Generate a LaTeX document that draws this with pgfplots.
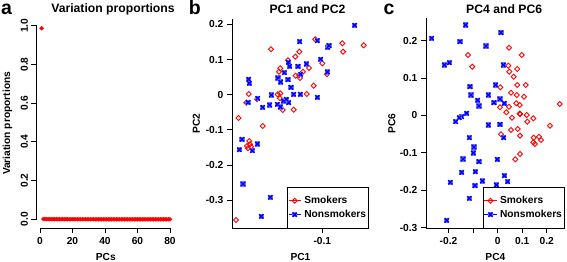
\documentclass[border=0pt]{standalone}
\usepackage{fontspec}
\setmainfont{Liberation Sans}
\usepackage{pgfplots}
\pgfplotsset{compat=1.18}
\definecolor{nsfill}{RGB}{120,120,255}
\pgfdeclareplotmark{nsq}{%
  \pgfpathrectangle{\pgfpoint{-\pgfplotmarksize}{-\pgfplotmarksize}}{\pgfpoint{2\pgfplotmarksize}{2\pgfplotmarksize}}%
  \pgfsetfillcolor{nsfill}%
  \pgfusepathqfill
  \pgfpathmoveto{\pgfpoint{-.8\pgfplotmarksize}{-.8\pgfplotmarksize}}%
  \pgfpathlineto{\pgfpoint{.8\pgfplotmarksize}{.8\pgfplotmarksize}}%
  \pgfpathmoveto{\pgfpoint{-.8\pgfplotmarksize}{.8\pgfplotmarksize}}%
  \pgfpathlineto{\pgfpoint{.8\pgfplotmarksize}{-.8\pgfplotmarksize}}%
  \pgfusepathqstroke}
\pgfplotsset{
  rstyle/.style={
    scale only axis, anchor=south west, clip=false,
    axis lines=left,
    x axis line style={-}, y axis line style={-},
    axis line style={line width=0.8bp, black},
    tick align=outside, major tick length=5bp,
    tick style={line width=0.8bp, black},
    title style={font=\fontsize{12.2bp}{14bp}\selectfont\bfseries, anchor=base, yshift=-6pt},
    xlabel style={at={(axis description cs:0.5,0)}, anchor=base, yshift=-31.7bp},
  },
  smk/.style={only marks, red, mark=square, mark size=1.8bp, mark options={rotate=45, line width=0.9bp}},
  nsm/.style={only marks, blue, mark=nsq, mark size=2.6bp, mark options={line width=1.4bp}},
  rlegend/.style={
    legend style={at={(axis description cs:1,0)}, anchor=south east, draw=black, line width=0.8bp, fill=white,
      inner xsep=1bp, inner ysep=6.25bp, column sep=1.5bp, row sep=0bp,
      nodes={inner xsep=1.5bp, inner ysep=2.5bp}},
    legend cell align=left,
    legend image code/.code={\path (-6.2bp,0bp) -- (6.2bp,0bp); \draw[##1] plot coordinates {(0bp,0bp)};},
  },
}
\begin{document}
\fontsize{10.2bp}{12bp}\selectfont\bfseries
\begin{tikzpicture}
\useasboundingbox (0,0) rectangle (567bp,262bp);

% ---------------- panel a ----------------
\begin{axis}[rstyle,
  at={(36.5bp,33.7bp)}, width=138.6bp, height=209.8bp,
  xmin=-2.154, xmax=83.14, ymin=-0.0465, ymax=1.0372,
  x axis line style={draw=none}, y axis line style={draw=none},
  xtick={0,20,40,60,80}, xticklabels={0,20,40,60,80},
  ytick={0,0.2,0.4,0.6,0.8,1.0}, yticklabels={0.0,0.2,0.4,0.6,0.8,1.0},
  yticklabel style={rotate=90, anchor=south},
  title={Variation proportions}, title style={at={(axis description cs:0.552,1)}, yshift=5.6bp},
  xlabel={PCs}, ylabel={Variation proportions},
  ylabel style={at={(axis description cs:-0.1912,0.5)}, anchor=base},
]
\draw[line width=0.8bp] (axis cs:0,-0.0465) -- (axis cs:80,-0.0465);
\draw[line width=0.8bp] (axis cs:-2.154,0) -- (axis cs:-2.154,1);
\addplot[only marks, red, mark=*, mark size=1.95bp] coordinates {
(1,0.987) (2,0.0016) (3,0.0012) (4,0.0010) (5,0.0009) (6,0.0008) (7,0.0007) (8,0.0007)
(9,0.0006) (10,0.0006) (11,0.0005) (12,0.0005) (13,0.0005) (14,0.0004) (15,0.0004) (16,0.0004)
(17,0.0004) (18,0.0003) (19,0.0003) (20,0.0003) (21,0.0003) (22,0.0003) (23,0.0003) (24,0.0002)
(25,0.0002) (26,0.0002) (27,0.0002) (28,0.0002) (29,0.0002) (30,0.0002) (31,0.0002) (32,0.0002)
(33,0.0002) (34,0.0001) (35,0.0001) (36,0.0001) (37,0.0001) (38,0.0001) (39,0.0001) (40,0.0001)
(41,0.0001) (42,0.0001) (43,0.0001) (44,0.0001) (45,0.0001) (46,0.0001) (47,0.0001) (48,0.0001)
(49,0.0001) (50,0.0001) (51,0.0001) (52,0.0001) (53,0.0001) (54,0.0001) (55,0.0001) (56,0.0001)
(57,0.0000) (58,0.0000) (59,0.0000) (60,0.0000) (61,0.0000) (62,0.0000) (63,0.0000) (64,0.0000)
(65,0.0000) (66,0.0000) (67,0.0000) (68,0.0000) (69,0.0000) (70,0.0000) (71,0.0000) (72,0.0000)
(73,0.0000) (74,0.0000) (75,0.0000) (76,0.0000) (77,0.0000) (78,0.0000) (79,0.0000) (80,0.0000)
};
\end{axis}

% ---------------- panel b ----------------
\begin{axis}[rstyle, rlegend,
  at={(232bp,33.7bp)}, width=137bp, height=209.5bp,
  xmin=-0.10903, xmax=-0.09533, ymin=-0.37955, ymax=0.21563,
  xtick={-0.1}, xticklabels={-0.1},
  ytick={-0.3,-0.2,-0.1,0,0.1,0.2}, yticklabels={-0.3,-0.2,-0.1,0,0.1,0.2},
  title={PC1 and PC2}, title style={at={(axis description cs:0.551,1)}, yshift=5.3bp},
  xlabel={PC1}, ylabel={PC2},
  ylabel style={at={(axis description cs:-0.2336,0.5)}, anchor=base},
]
\addplot[smk] coordinates {
(-0.10070,0.1574) (-0.09800,0.1460) (-0.09586,0.1403) (-0.09793,0.1222) (-0.10513,0.1290)
(-0.10230,0.1222) (-0.10270,0.1080) (-0.10343,0.0977) (-0.10000,0.0892) (-0.10133,0.0759)
(-0.10420,0.0750) (-0.10433,0.0653) (-0.10193,0.0653) (-0.10230,0.0560) (-0.10266,0.0540)
(-0.09953,0.0580) (-0.10223,0.0474) (-0.10086,0.0256) (-0.10736,0.0020) (-0.10446,0.0011)
(-0.10420,0.0040) (-0.10156,0.0020) (-0.10423,-0.0102) (-0.10653,-0.0131) (-0.10760,-0.0227)
(-0.10396,-0.0435) (-0.10286,-0.0426) (-0.10838,-0.0662) (-0.10596,-0.0889) (-0.10730,-0.1315)
(-0.10753,-0.1457) (-0.10713,-0.1477) (-0.10743,-0.1523) (-0.10723,-0.1409) (-0.10863,-0.3560)
};
\addplot[nsm] coordinates {
(-0.09676,0.1972) (-0.10226,0.1506) (-0.10050,0.1534) (-0.09946,0.1347) (-0.09933,0.1392)
(-0.10016,0.1006) (-0.10340,0.0920) (-0.10326,0.0807) (-0.10160,0.0872) (-0.10243,0.0807)
(-0.10380,0.0625) (-0.09950,0.0645) (-0.10216,0.0580) (-0.10736,0.0438) (-0.10730,0.0324)
(-0.10443,0.0474) (-0.10343,0.0426) (-0.10416,0.0361) (-0.10313,0.0210) (-0.10510,-0.0009)
(-0.10286,0.0011) (-0.10220,0.0011) (-0.10050,-0.0074) (-0.10646,-0.0102) (-0.10743,-0.0216)
(-0.10596,-0.0358) (-0.10526,-0.0293) (-0.10450,-0.0273) (-0.10420,-0.0349) (-0.10390,-0.0179)
(-0.10336,-0.0227) (-0.10360,-0.0131) (-0.10803,-0.1267) (-0.10830,-0.1563) (-0.10650,-0.1401)
(-0.10700,-0.1591) (-0.10793,-0.2537) (-0.10520,-0.2915) (-0.10610,-0.3455)
};
\legend{Smokers,Nonsmokers}
\end{axis}

% ---------------- panel c ----------------
\begin{axis}[rstyle, rlegend,
  at={(426bp,33.7bp)}, width=138.8bp, height=210bp,
  xmin=-0.29154, xmax=0.2732, ymin=-0.30187, ymax=0.25993,
  xtick={-0.2,-0.1,0,0.1,0.2}, xticklabels={-0.2,,0,0.1,0.2},
  ytick={-0.3,-0.2,-0.1,0,0.1,0.2}, yticklabels={-0.3,-0.2,-0.1,0,0.1,0.2},
  title={PC4 and PC6}, title style={at={(axis description cs:0.563,1)}, yshift=4.8bp},
  xlabel={PC4}, ylabel={PC6},
  ylabel style={at={(axis description cs:-0.2212,0.5)}, anchor=base},
]
\addplot[smk] coordinates {
(0.0461,0.1813) (0.0978,0.1617) (-0.1207,0.1617) (-0.1032,0.1304) (0.0433,0.1331)
(0.0799,0.1243) (0.0474,0.1171) (0.0653,0.1037) (0.0799,0.0815) (0.1141,0.0815)
(0.0107,0.0753) (0.0543,0.0609) (0.0775,0.0547) (0.1072,0.0502) (0.0758,0.0325)
(0.0897,0.0280) (0.0461,0.0234) (0.0095,0.0218) (0.2524,0.0307) (0.0352,0.0085)
(0.0897,0.0047) (0.0921,0.0039) (0.1181,0.0012) (0.0583,-0.0060) (0.1450,-0.0076)
(0.1206,-0.0167) (0.2129,-0.0274) (0.0543,-0.0389) (0.0815,-0.0362) (0.0136,-0.0504)
(0.0909,-0.0541) (0.1466,-0.0595) (0.1682,-0.0568) (0.1763,-0.0657) (0.1450,-0.0718)
(0.1519,-0.0764) (0.0909,-0.1031) (0.0718,-0.1173)
};
\addplot[nsm] coordinates {
(-0.1300,0.2420) (0.0136,0.2214) (-0.2684,0.2064) (-0.1532,0.1973) (-0.0474,0.1858)
(-0.2171,0.1350) (-0.1967,0.1411) (0.0229,0.1350) (-0.1125,0.0769) (-0.0080,0.0815)
(-0.1085,0.0547) (-0.0381,0.0547) (-0.0812,0.0406) (0.0095,0.0440) (-0.0149,0.0341)
(0.0270,0.0325) (-0.0759,0.0253) (-0.1260,0.0058) (-0.1463,-0.0033) (-0.1561,-0.0060)
(-0.1707,-0.0167) (-0.0381,-0.0255) (0.0095,-0.0236) (0.0246,-0.0595) (-0.1154,-0.0595)
(-0.0963,-0.0844) (-0.0991,-0.1004) (-0.1410,-0.1165) (-0.0759,-0.1237) (-0.0015,-0.1173)
(-0.1463,-0.1521) (-0.0910,-0.1505) (0.0270,-0.1612) (0.0408,-0.1772) (-0.0625,-0.1753)
(-0.0922,-0.1879) (-0.0055,-0.1860) (-0.1927,-0.1788) (-0.1154,-0.2216) (-0.2073,-0.2805)
};
\legend{Smokers,Nonsmokers}
\end{axis}

\node[anchor=base west, inner sep=0pt, font=\fontsize{19.5bp}{20bp}\selectfont\bfseries] at (0.9bp,247bp) {a};
\node[anchor=base west, inner sep=0pt, font=\fontsize{19.5bp}{20bp}\selectfont\bfseries] at (188.6bp,247bp) {b};
\node[anchor=base west, inner sep=0pt, font=\fontsize{19.5bp}{20bp}\selectfont\bfseries] at (383.5bp,247bp) {c};
\end{tikzpicture}
\end{document}
